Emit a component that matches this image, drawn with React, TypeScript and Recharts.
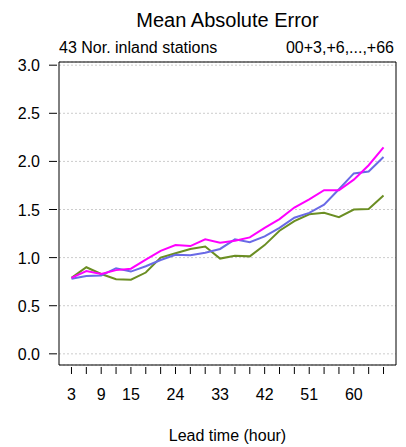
import React from "react";
import { LineChart, Line, XAxis, YAxis, CartesianGrid, ReferenceArea } from "recharts";

const leadTimes = [3, 6, 9, 12, 15, 18, 21, 24, 27, 30, 33, 36, 39, 42, 45, 48, 51, 54, 57, 60, 63, 66];
const magentaSeries = [0.79, 0.86, 0.83, 0.87, 0.885, 0.98, 1.07, 1.13, 1.12, 1.19, 1.155, 1.175, 1.21, 1.31, 1.4, 1.52, 1.605, 1.7, 1.7, 1.81, 1.96, 2.145];
const blueSeries = [0.78, 0.81, 0.815, 0.89, 0.855, 0.91, 0.975, 1.03, 1.025, 1.05, 1.09, 1.19, 1.16, 1.22, 1.31, 1.415, 1.465, 1.55, 1.71, 1.875, 1.895, 2.045];
const greenSeries = [0.79, 0.9, 0.83, 0.775, 0.77, 0.845, 1.0, 1.045, 1.09, 1.115, 0.99, 1.02, 1.013, 1.13, 1.28, 1.38, 1.45, 1.465, 1.42, 1.5, 1.505, 1.645];
const xLabelTicks = [3, 9, 15, 24, 33, 42, 51, 60];
const yTicks = [0, 0.5, 1, 1.5, 2, 2.5, 3];

const X_DOMAIN: [number, number] = [0.48, 68.52];
const Y_DOMAIN: [number, number] = [-0.116, 3.033];

const data = leadTimes.map((t, i) => ({
  t,
  magenta: magentaSeries[i],
  blue: blueSeries[i],
  green: greenSeries[i],
}));

const FONT = "'Liberation Sans', Arial, Helvetica, sans-serif";

const XTick = (props: any) => {
  const { x, y, payload } = props;
  const show = xLabelTicks.includes(payload.value);
  return (
    <g>
      <line x1={x} x2={x} y1={y + 2} y2={y + 9} stroke="#000" strokeWidth={1} />
      {show && (
        <text x={x} y={y + 35} textAnchor="middle" fontSize={16} fontFamily={FONT} fill="#000">
          {payload.value}
        </text>
      )}
    </g>
  );
};

const YTick = (props: any) => {
  const { x, y, payload } = props;
  return (
    <g>
      <line x1={x - 10} x2={x - 2} y1={y} y2={y} stroke="#000" strokeWidth={1} />
      <text x={x - 19} y={y + 6} textAnchor="end" fontSize={16} fontFamily={FONT} fill="#000">
        {payload.value.toFixed(1)}
      </text>
    </g>
  );
};

export default function App() {
  return (
    <div style={{ position: "absolute", left: 0, top: 0, width: 406, height: 447, background: "#fff", fontFamily: FONT }}>
      <div style={{ position: "absolute", left: 59, width: 337, top: 10, textAlign: "center", fontSize: 20, lineHeight: "20px" }}>
        Mean Absolute Error
      </div>
      <div style={{ position: "absolute", left: 59, top: 40, fontSize: 16, lineHeight: "16px" }}>43 Nor. inland stations</div>
      <div style={{ position: "absolute", right: 12, top: 40, fontSize: 16, lineHeight: "16px" }}>00+3,+6,...,+66</div>
      <div style={{ position: "absolute", left: 59, width: 337, top: 428, textAlign: "center", fontSize: 16, lineHeight: "16px" }}>
        Lead time (hour)
      </div>
      <LineChart
        width={406}
        height={447}
        data={data}
        margin={{ top: 62, right: 10, bottom: 0, left: 0 }}
        style={{ position: "absolute", left: 0, top: 0 }}
      >
        <CartesianGrid vertical={false} stroke="#cccccc" strokeDasharray="2 2" />
        <XAxis
          dataKey="t"
          type="number"
          domain={X_DOMAIN}
          ticks={leadTimes}
          interval={0}
          axisLine={false}
          tickLine={false}
          tickSize={0}
          tickMargin={0}
          height={82}
          tick={<XTick />}
          allowDataOverflow
        />
        <YAxis
          type="number"
          domain={Y_DOMAIN}
          ticks={yTicks}
          interval={0}
          axisLine={false}
          tickLine={false}
          tickSize={0}
          tickMargin={0}
          width={59}
          tick={<YTick />}
          allowDataOverflow
        />
        <ReferenceArea x1={X_DOMAIN[0]} x2={X_DOMAIN[1]} y1={Y_DOMAIN[0]} y2={Y_DOMAIN[1]} fill="none" stroke="#000" strokeWidth={1} fillOpacity={0} />
        <Line type="linear" dataKey="green" stroke="#6B8E23" strokeWidth={2} dot={false} isAnimationActive={false} />
        <Line type="linear" dataKey="blue" stroke="#6A6AE6" strokeWidth={2} dot={false} isAnimationActive={false} />
        <Line type="linear" dataKey="magenta" stroke="#FF00FF" strokeWidth={2} dot={false} isAnimationActive={false} />
      </LineChart>
    </div>
  );
}
